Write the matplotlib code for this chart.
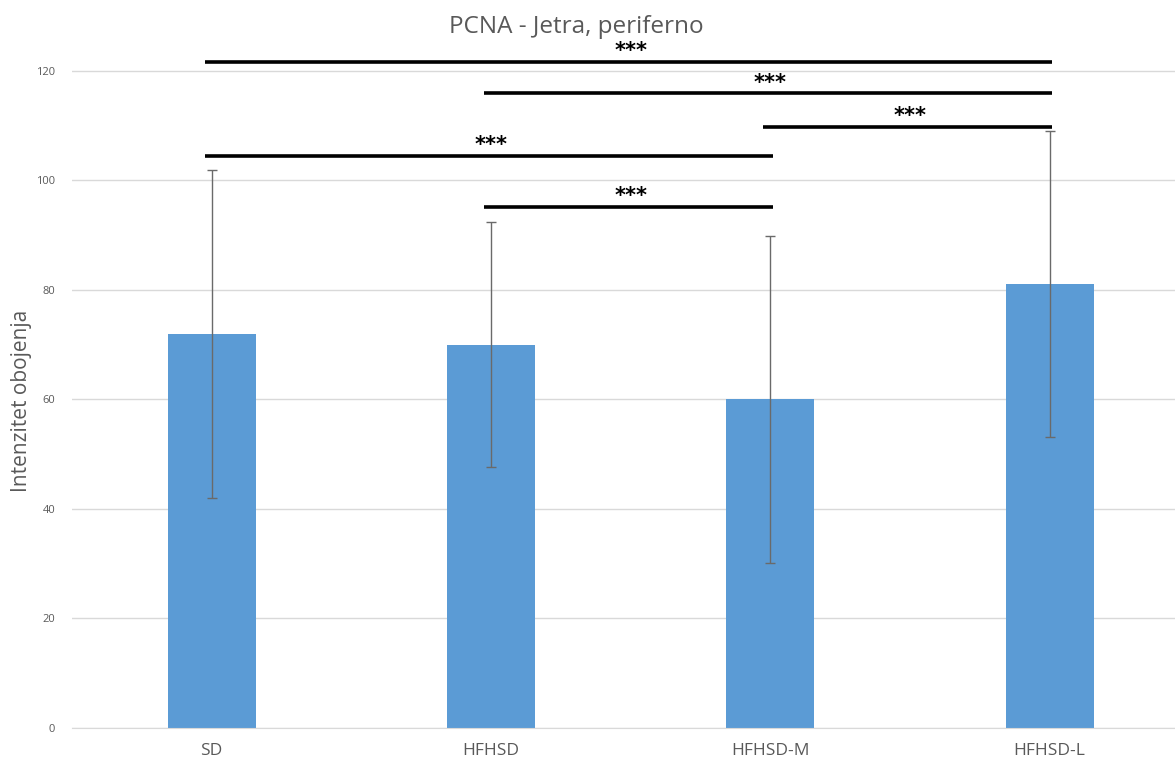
import numpy as np
import matplotlib.pyplot as plt

# Data
groups = ['SD', 'HFHSD', 'HFHSD-M', 'HFHSD-L']
means = [72.0, 70.0, 60.0, 81.1]
errors = [30.0, 22.4, 29.8, 27.9]

# significance brackets: (from group, to group), height, label
sig_pairs = [(0, 3), (1, 3), (2, 3), (0, 2), (1, 2)]
sig_heights = [121.7, 115.9, 109.8, 104.5, 95.1]
sig_labels = ['***', '***', '***', '***', '***']

plt.rcParams['font.family'] = ['Open Sans', 'DejaVu Sans']
grey = '#595959'

fig = plt.figure(figsize=(11.75, 7.64), dpi=100)
ax = fig.add_axes([72 / 1175, 36 / 764, 1 - 72 / 1175, 684.4 / 764])

x = np.arange(len(groups))
ax.bar(x, means, width=0.315, color='#5B9BD5', zorder=2)
ax.errorbar(x, means, yerr=errors, fmt='none', ecolor='#6A6A6A',
            elinewidth=1.0, capsize=3.5, capthick=1.0, zorder=3)

# significance lines
for (i, j), h, lab in zip(sig_pairs, sig_heights, sig_labels):
    ax.plot([i - 0.025, j + 0.01], [h, h], color='black', lw=2.6,
            solid_capstyle='butt', zorder=4, clip_on=False)
    ax.text((i + j) / 2, h + 0.15, lab, ha='center', va='bottom',
            fontsize=15, fontweight='bold', color='black',
            family='DejaVu Sans')

ax.set_xlim(-0.5, 3.449)
ax.set_ylim(0, 125)
ax.set_yticks(np.arange(0, 121, 20))
ax.set_xticks(x)
ax.set_xticklabels(groups, fontsize=12.5, color=grey)
ax.tick_params(axis='x', length=0, pad=11)
ax.tick_params(axis='y', length=0, pad=12, labelsize=8, labelcolor=grey)

ax.grid(axis='y', color='#D9D9D9', lw=1, zorder=0)
ax.set_axisbelow(True)
for s in ['top', 'right', 'left']:
    ax.spines[s].set_visible(False)
ax.spines['bottom'].set_color('#D9D9D9')

fig.text(22 / 1175, 1 - 401 / 764, 'Intenzitet obojenja', rotation=90,
         ha='center', va='center', fontsize=15, color=grey)
fig.text(576 / 1175, 1 - 27 / 764, 'PCNA - Jetra, periferno',
         ha='center', va='center', fontsize=17.5, color=grey)

fig.savefig('out.png', dpi=100)
